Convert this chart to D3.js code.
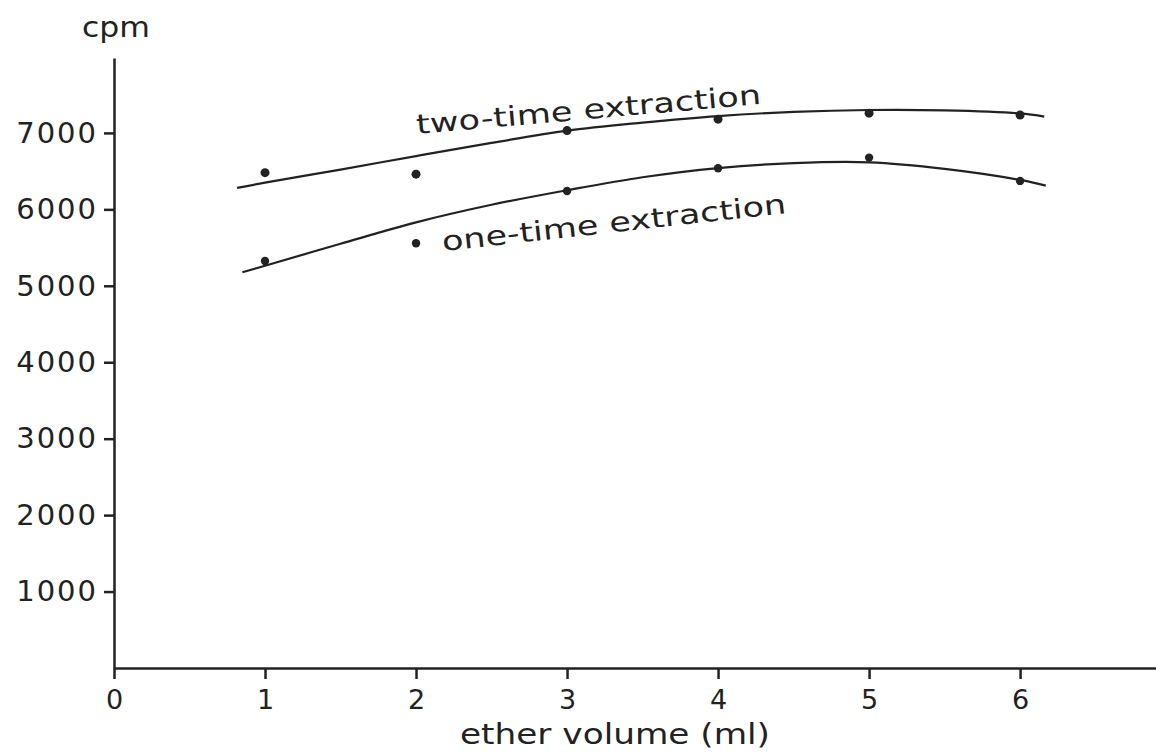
<!DOCTYPE html>
<html>
<head>
<meta charset="utf-8">
<script src="https://cdn.jsdelivr.net/npm/d3@7"></script>
<style>
  body { margin: 0; background: #fff; }
  text { font-family: "DejaVu Sans", sans-serif; fill: #222; }
</style>
</head>
<body>
<div id="chart"></div>
<script>
// ether volume (ml) where samples were measured
var volumes = [1, 2, 3, 4, 5, 6];
// measured cpm
var twoTime = [6480, 6460, 7030, 7180, 7258, 7235];
var oneTime = [5325, 5557, 6241, 6538, 6677, 6372];

// hand-drawn fitted curves
var fitXTwo = [0.815, 1, 1.5, 2, 2.5, 3, 3.5, 4, 4.5, 5, 5.5, 6, 6.16];
var fitTwo = [6280, 6350, 6520, 6697, 6869, 7030, 7135, 7220, 7275, 7300, 7295, 7255, 7214];
var fitXOne = [0.85, 1, 1.5, 2, 2.5, 3, 3.5, 4, 4.5, 5, 5.5, 6, 6.17];
var fitOne = [5177, 5262, 5550, 5830, 6060, 6250, 6420, 6540, 6605, 6615, 6530, 6385, 6310];

var xTicks = [0, 1, 2, 3, 4, 5, 6];
var yTicks = [1000, 2000, 3000, 4000, 5000, 6000, 7000];

var svgWidth = 1156;
var svgHeight = 753;

var svg = d3.select("#chart")
    .append("svg")
    .attr("width", svgWidth)
    .attr("height", svgHeight);

// scales
var x = d3.scaleLinear().domain([0, 6.9]).range([114, 1156]);
var y = d3.scaleLinear().domain([0, 7980]).range([668, 58]);

// x axis
var xAxis = svg.append("g")
    .attr("transform", "translate(0," + y(0) + ")")
    .call(d3.axisBottom(x).tickValues(xTicks).tickFormat(d3.format("d"))
        .tickSize(11).tickSizeOuter(0).tickPadding(11));
xAxis.selectAll("text").style("font-size", "27px");

// y axis
var yAxis = svg.append("g")
    .attr("transform", "translate(" + x(0) + ",0)")
    .call(d3.axisLeft(y).tickValues(yTicks).tickFormat(d3.format("d"))
        .tickSize(10).tickSizeOuter(0).tickPadding(6));
yAxis.selectAll("text").style("font-size", "29px").style("letter-spacing", "2px");

svg.selectAll(".domain, .tick line")
    .attr("stroke", "#222")
    .attr("stroke-width", 2.5);
svg.selectAll(".tick text").attr("fill", "#222");

// fitted curves
var line = d3.line()
    .x(d => x(d[0]))
    .y(d => y(d[1]))
    .curve(d3.curveCatmullRom);

svg.append("path")
    .datum(d3.zip(fitXTwo, fitTwo))
    .attr("d", line)
    .attr("fill", "none")
    .attr("stroke", "#222")
    .attr("stroke-width", 2.2);

svg.append("path")
    .datum(d3.zip(fitXOne, fitOne))
    .attr("d", line)
    .attr("fill", "none")
    .attr("stroke", "#222")
    .attr("stroke-width", 2.2);

// data points
svg.selectAll(".two")
    .data(d3.zip(volumes, twoTime))
    .enter()
    .append("circle")
    .attr("cx", d => x(d[0]))
    .attr("cy", d => y(d[1]))
    .attr("r", 4.5)
    .attr("fill", "#222");

svg.selectAll(".one")
    .data(d3.zip(volumes, oneTime))
    .enter()
    .append("circle")
    .attr("cx", d => x(d[0]))
    .attr("cy", d => y(d[1]))
    .attr("r", 4.2)
    .attr("fill", "#222");

// curve labels
svg.append("text")
    .attr("transform", "translate(417,134) rotate(-5)")
    .attr("textLength", 346)
    .attr("lengthAdjust", "spacingAndGlyphs")
    .style("font-size", "27px")
    .text("two-time extraction");

svg.append("text")
    .attr("transform", "translate(443,251) rotate(-6.3)")
    .attr("textLength", 346)
    .attr("lengthAdjust", "spacingAndGlyphs")
    .style("font-size", "27px")
    .text("one-time extraction");

// axis titles
svg.append("text")
    .attr("x", 82)
    .attr("y", 37)
    .attr("textLength", 68)
    .attr("lengthAdjust", "spacingAndGlyphs")
    .style("font-size", "29px")
    .text("cpm");

svg.append("text")
    .attr("x", 460)
    .attr("y", 744)
    .attr("textLength", 310)
    .attr("lengthAdjust", "spacingAndGlyphs")
    .style("font-size", "29px")
    .text("ether volume (ml)");
</script>
</body>
</html>
